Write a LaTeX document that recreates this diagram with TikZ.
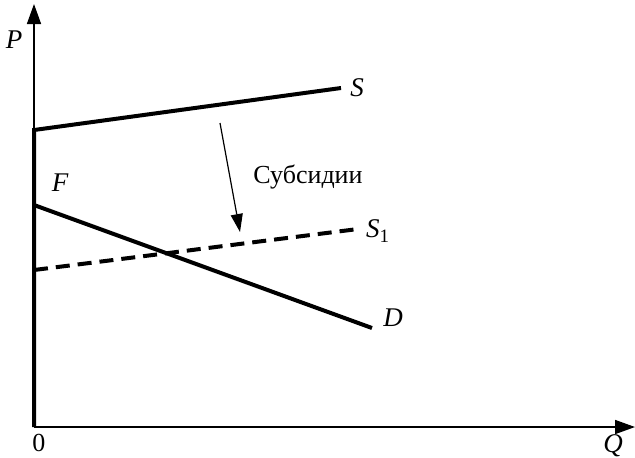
\documentclass[tikz,border=0pt]{standalone}
\usepackage{fontspec}
\setmainfont{Liberation Serif}
\usepackage{tikz}
\usetikzlibrary{arrows.meta, positioning}
\tikzset{
  axisline/.style={line width=0.8pt, -{Triangle[length=10pt, width=7pt]}},
  curveline/.style={line width=2pt},
  shiftline/.style={curveline, dash pattern=on 7pt off 4pt},
  shiftarrow/.style={line width=0.6pt, -{Triangle[length=9pt, width=6pt]}},
  curvelabel/.style={font=\fontsize{13.5}{16}\selectfont\itshape, inner sep=1pt},
  notelabel/.style={font=\fontsize{13}{15}\selectfont, inner sep=1pt}
}

\begin{document}
\begin{tikzpicture}[x=0.5pt, y=-0.5pt]
\useasboundingbox (0,0) rectangle (635,457);

% Axes
\coordinate (origin) at (34,427);
\coordinate (ptop)   at (34,4);
\coordinate (qend)   at (635,427);
\draw[axisline] (origin) -- (ptop);
\draw[axisline] (origin) -- (qend);
\node[notelabel] (zero) at (39,443) {0};
\node[curvelabel] (plabel) at (14,40) {P};
\node[curvelabel] (qlabel) at (613,446) {Q};

% Curves
\coordinate (sstart)  at (34,130);
\coordinate (send)    at (341,88);
\coordinate (dstart)  at (34,205);
\coordinate (dend)    at (372,328);
\coordinate (s1start) at (34,270);
\coordinate (s1end)   at (358,229);
\draw[curveline] (origin) -- (sstart) -- (send);
\draw[curveline] (dstart) -- (dend);
\draw[shiftline] (s1start) -- (s1end);

% Labels
\node[curvelabel] (slabel)  at (357,88)  {S};
\node[curvelabel] (s1label) at (378,231) {S\textsubscript{\upshape 1}};
\node[curvelabel] (dlabel)  at (393,318) {D};
\node[curvelabel] (flabel)  at (60,183)  {F};

% Subsidy shift
\coordinate (arrtop) at (220,123);
\coordinate (arrbot) at (240,232);
\draw[shiftarrow] (arrtop) -- (arrbot);
\node[notelabel] (subsidy) at (308,177) {Субсидии};

\end{tikzpicture}
\end{document}
